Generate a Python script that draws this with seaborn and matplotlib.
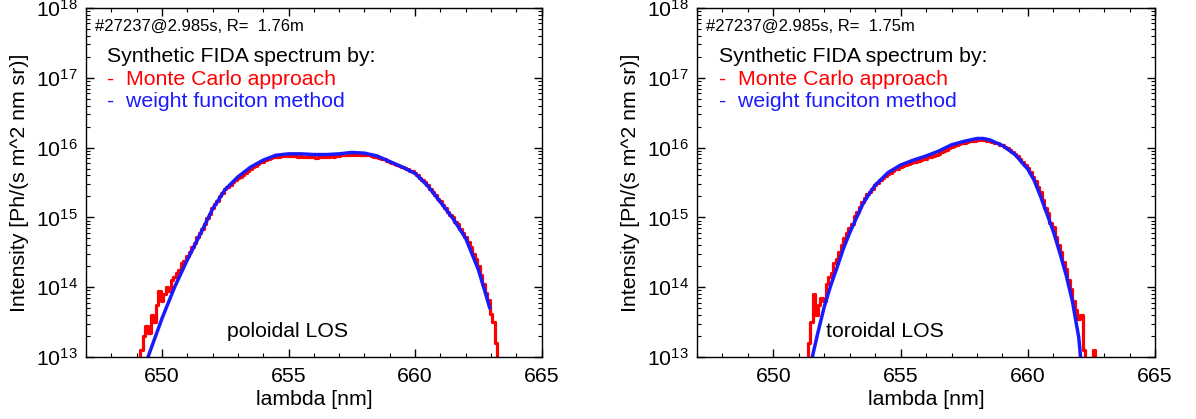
import numpy as np
import seaborn as sns
import matplotlib.pyplot as plt
from matplotlib.ticker import LogLocator, MultipleLocator

# ---- data (log10 intensity) ----
# poloidal LOS, weight function method (smooth curve)
pol_wf_lam = [649.45, 649.7, 650.0, 650.5, 651.0, 651.5, 652.0, 652.5, 653.0, 653.5,
              654.0, 654.5, 655.0, 655.5, 656.0, 656.5, 657.0, 657.5, 658.0, 658.5,
              659.0, 659.5, 660.0, 660.5, 661.0, 661.5, 662.0, 662.5, 662.75, 662.95]
pol_wf_log = [13.00, 13.25, 13.55, 14.00, 14.39, 14.75, 15.12, 15.40, 15.58, 15.72,
              15.82, 15.89, 15.91, 15.91, 15.90, 15.90, 15.91, 15.93, 15.92, 15.88,
              15.80, 15.72, 15.63, 15.45, 15.22, 14.98, 14.70, 14.25, 13.95, 13.70]

# poloidal LOS, Monte Carlo (0.1 nm bins from 649.0)
pol_mc_start = 649.0
pol_mc_log = [12.50, 12.90, 13.10, 13.30, 13.45, 13.35, 13.60, 13.50, 13.75, 13.95,
              13.80, 13.90, 14.00, 13.95, 14.10, 14.15, 14.20, 14.25, 14.35, 14.38,
              14.45, 14.50, 14.58, 14.63, 14.72, 14.78, 14.84, 14.91, 14.99, 15.05,
              15.13, 15.19, 15.24, 15.30, 15.35, 15.40, 15.43, 15.47, 15.50, 15.53,
              15.56, 15.58, 15.61, 15.64, 15.67, 15.69, 15.72, 15.74, 15.77, 15.79,
              15.80, 15.82, 15.84, 15.85, 15.86, 15.87, 15.87, 15.88, 15.88, 15.89,
              15.88, 15.89, 15.88, 15.88, 15.87, 15.88, 15.87, 15.87, 15.86, 15.87,
              15.86, 15.85, 15.87, 15.86, 15.87, 15.87, 15.86, 15.88, 15.87, 15.88,
              15.88, 15.89, 15.89, 15.90, 15.90, 15.91, 15.90, 15.91, 15.90, 15.90,
              15.90, 15.89, 15.89, 15.88, 15.87, 15.86, 15.85, 15.84, 15.83, 15.81,
              15.80, 15.78, 15.77, 15.75, 15.74, 15.72, 15.71, 15.69, 15.67, 15.66,
              15.64, 15.61, 15.57, 15.54, 15.50, 15.46, 15.41, 15.37, 15.32, 15.27,
              15.23, 15.18, 15.13, 15.08, 15.04, 15.00, 14.94, 14.90, 14.84, 14.78,
              14.72, 14.65, 14.57, 14.48, 14.40, 14.30, 14.18, 14.05, 13.92, 13.82,
              13.62, 13.50, 13.20, 12.60]

# toroidal LOS, weight function method
tor_wf_lam = [651.53, 651.75, 652.0, 652.25, 652.5, 652.75, 653.0, 653.25, 653.5, 653.75,
              654.0, 654.5, 655.0, 655.5, 656.0, 656.5, 657.0, 657.5, 658.0, 658.25,
              658.5, 659.0, 659.5, 660.0, 660.25, 660.5, 660.75, 661.0, 661.25, 661.5,
              661.75, 662.0, 662.07]
tor_wf_log = [13.00, 13.35, 13.72, 14.02, 14.28, 14.55, 14.78, 14.98, 15.18, 15.33,
              15.46, 15.64, 15.75, 15.82, 15.88, 15.95, 16.04, 16.09, 16.13, 16.13,
              16.11, 16.03, 15.90, 15.69, 15.53, 15.30, 15.05, 14.80, 14.50, 14.18,
              13.80, 13.28, 13.00]

# toroidal LOS, Monte Carlo (0.1 nm bins from 651.3)
tor_mc_start = 651.3
tor_mc_log = [12.60, 13.20, 13.50, 13.90, 13.60, 13.75, 13.85, 13.80, 14.05, 14.15,
              14.20, 14.35, 14.40, 14.50, 14.60, 14.70, 14.78, 14.85, 14.90, 15.02,
              15.08, 15.15, 15.22, 15.28, 15.33, 15.37, 15.41, 15.46, 15.49, 15.53,
              15.57, 15.59, 15.62, 15.64, 15.67, 15.69, 15.70, 15.72, 15.73, 15.75,
              15.76, 15.78, 15.79, 15.80, 15.81, 15.82, 15.83, 15.84, 15.86, 15.86,
              15.88, 15.89, 15.91, 15.93, 15.95, 15.97, 15.99, 16.01, 16.02, 16.04,
              16.05, 16.06, 16.07, 16.08, 16.09, 16.10, 16.10, 16.11, 16.11, 16.11,
              16.11, 16.10, 16.09, 16.08, 16.07, 16.06, 16.04, 16.03, 16.01, 15.99,
              15.96, 15.94, 15.91, 15.88, 15.84, 15.79, 15.75, 15.71, 15.65, 15.58,
              15.52, 15.44, 15.36, 15.25, 15.14, 15.06, 14.92, 14.86, 14.72, 14.60,
              14.50, 14.36, 14.26, 14.10, 13.98, 13.80, 13.68, 13.55, 13.60, 13.10,
              12.80, 12.50, 12.70, 13.10, 12.50]

shot_labels = ['#27237@2.985s, R=  1.76m', '#27237@2.985s, R=  1.75m']
los_labels = ['poloidal LOS', 'toroidal LOS']
los_x = [0.31, 0.281]

sns.set_style('ticks')
plt.rcParams['font.family'] = ['Liberation Sans', 'DejaVu Sans']
plt.rcParams['mathtext.fontset'] = 'custom'
plt.rcParams['mathtext.rm'] = 'Liberation Sans'
plt.rcParams['xtick.direction'] = 'in'
plt.rcParams['ytick.direction'] = 'in'
plt.rcParams['text.color'] = 'black'
plt.rcParams['axes.labelcolor'] = 'black'
plt.rcParams['xtick.color'] = 'black'
plt.rcParams['ytick.color'] = 'black'
plt.rcParams['axes.edgecolor'] = 'black'

RED = '#ff0000'
BLUE = '#1a1aff'
FS = 15.3

fig = plt.figure(figsize=(11.96, 4.19), dpi=100)
ax1 = fig.add_axes([0.0719, 0.148, 0.381, 0.833])
ax2 = fig.add_axes([0.5828, 0.148, 0.383, 0.833])

panels = [
    (ax1, pol_mc_start, pol_mc_log, pol_wf_lam, pol_wf_log),
    (ax2, tor_mc_start, tor_mc_log, tor_wf_lam, tor_wf_log),
]

for i, (ax, mc_start, mc_log, wf_lam, wf_log) in enumerate(panels):
    mc_lam = mc_start + 0.1 * np.arange(len(mc_log))
    sns.lineplot(x=mc_lam, y=10.0 ** np.array(mc_log), ax=ax, color=RED, lw=2.3,
                 drawstyle='steps-mid', estimator=None, sort=False)
    sns.lineplot(x=wf_lam, y=10.0 ** np.array(wf_log), ax=ax, color=BLUE, lw=2.5,
                 estimator=None, sort=False)

    ax.set_yscale('log')
    ax.set_xlim(647, 665)
    ax.set_ylim(1e13, 1e18)
    ax.xaxis.set_major_locator(MultipleLocator(5))
    ax.xaxis.set_minor_locator(MultipleLocator(1))
    ax.yaxis.set_major_locator(LogLocator(base=10))
    ax.yaxis.set_minor_locator(LogLocator(base=10, subs=np.arange(2, 10)))
    ax.tick_params(which='both', top=True, right=True, labelsize=FS)
    ax.tick_params(which='major', length=6, width=1.0)
    ax.tick_params(which='minor', length=3, width=0.8)
    ax.tick_params(axis='x', pad=7)
    ax.tick_params(axis='y', pad=6)
    for sp in ax.spines.values():
        sp.set_linewidth(1.0)
        sp.set_visible(True)

    ax.set_xlabel('lambda [nm]', fontsize=FS)
    ax.set_ylabel('Intensity [Ph/(s m^2 nm sr)]', fontsize=FS)
    ax.xaxis.set_label_coords(0.5, -0.095)
    ax.yaxis.set_label_coords(-0.125, 0.5)

    ax.text(0.02, 0.948, shot_labels[i], transform=ax.transAxes, fontsize=12, va='center')
    ax.text(0.047, 0.86, 'Synthetic FIDA spectrum by:', transform=ax.transAxes,
            fontsize=FS, va='center')
    ax.text(0.047, 0.794, '-  Monte Carlo approach', transform=ax.transAxes,
            fontsize=FS, va='center', color=RED)
    ax.text(0.047, 0.732, '-  weight funciton method', transform=ax.transAxes,
            fontsize=FS, va='center', color=BLUE)
    ax.text(los_x[i], 0.072, los_labels[i], transform=ax.transAxes, fontsize=FS, va='center')

fig.savefig('out.png', dpi=100)
